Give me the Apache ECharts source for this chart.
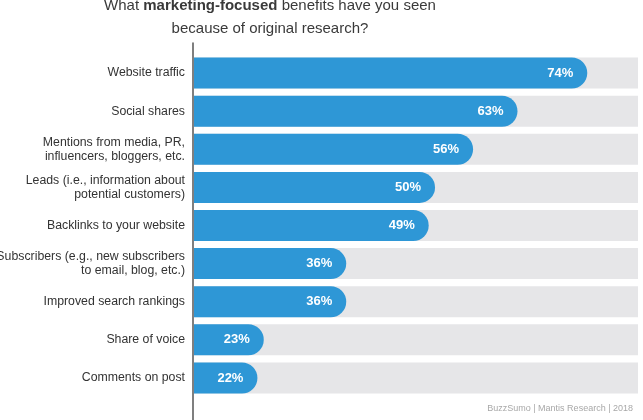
<!DOCTYPE html>
<html>
<head>
<meta charset="utf-8">
<script src="https://cdn.jsdelivr.net/npm/echarts@6/dist/echarts.min.js"></script>
<style>html,body{margin:0;padding:0;background:#fff;}#c{width:643px;height:420px;}</style>
</head>
<body>
<div id="c"></div>
<script>
const categories = [
  'Website traffic',
  'Social shares',
  'Mentions from media, PR,\ninfluencers, bloggers, etc.',
  'Leads (i.e., information about\npotential customers)',
  'Backlinks to your website',
  'Subscribers (e.g., new subscribers\nto email, blog, etc.)',
  'Improved search rankings',
  'Share of voice',
  'Comments on post'
];
const values = [74, 63, 56, 50, 49, 36, 36, 23, 22];
const sourceText = 'BuzzSumo | Mantis Research | 2018';

const chart = echarts.init(document.getElementById('c'));
chart.setOption({
  backgroundColor: '#fff',
  animation: false,
  title: [{
    text: '{n|What }{b|marketing-focused}{n| benefits have you seen}\n{n|because of original research?}',
    left: 265,
    textAlign: 'center',
    top: -11,
    textStyle: {
      fontWeight: 'normal',
      rich: {
        n: { fontFamily: 'Liberation Sans', fontSize: 15, fontWeight: 'normal', color: '#3a3a3a', lineHeight: 23 },
        b: { fontFamily: 'Liberation Sans', fontSize: 15, fontWeight: 'bold', color: '#3a3a3a', lineHeight: 23 }
      }
    }
  }, {
    text: sourceText,
    right: 5,
    top: 399,
    textStyle: { fontFamily: 'Liberation Sans', fontSize: 9, fontWeight: 'normal', color: '#a8a8a8' }
  }],
  grid: [
    { left: 194, right: 5, top: 54, bottom: 23, containLabel: false, outerBoundsMode: 'none' },
    { left: 193, width: 1, top: 43, bottom: 0, outerBoundsMode: 'none' }
  ],
  xAxis: [
    { type: 'value', min: 12, max: 82, show: false, gridIndex: 0 },
    { type: 'value', min: 0, max: 1, show: false, gridIndex: 1 }
  ],
  yAxis: [{
    type: 'category',
    gridIndex: 0,
    data: categories,
    inverse: true,
    axisLine: { show: false },
    axisTick: { show: false },
    axisLabel: {
      margin: 9,
      fontFamily: 'Liberation Sans',
      fontSize: 12.3,
      color: '#333',
      lineHeight: 14,
      align: 'right'
    }
  }, {
    type: 'value',
    gridIndex: 1,
    min: 0, max: 1,
    axisLine: { show: true, lineStyle: { color: '#555', width: 1.5 } },
    axisTick: { show: false },
    axisLabel: { show: false },
    splitLine: { show: false }
  }],
  series: [{
    type: 'bar',
    xAxisIndex: 0,
    yAxisIndex: 0,
    data: values,
    barWidth: 31,
    showBackground: true,
    backgroundStyle: { color: '#e6e6e8' },
    itemStyle: { color: '#2e97d6', borderRadius: [0, 16, 16, 0] },
    label: {
      show: true,
      position: 'insideRight',
      distance: 14,
      formatter: '{c}%',
      color: '#fff',
      fontFamily: 'Liberation Sans',
      fontWeight: 'bold',
      fontSize: 13
    }
  }]
});
</script>
</body>
</html>
